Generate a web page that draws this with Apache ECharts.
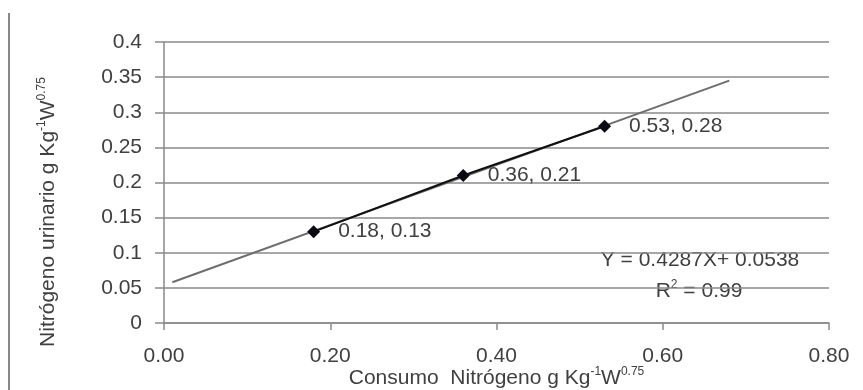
<!DOCTYPE html>
<html>
<head>
<meta charset="utf-8">
<script src="https://cdn.jsdelivr.net/npm/echarts@6/dist/echarts.min.js"></script>
<style>
  html, body { margin: 0; padding: 0; background: #fff; }
  #chart { width: 863px; height: 390px; }
</style>
</head>
<body>
<div id="chart"></div>
<script>
// observed points (consumo, urinario)
const consumo = [0.18, 0.36, 0.53];
const urinario = [0.13, 0.21, 0.28];
// ends of the fitted trendline
const trendX = [0.01, 0.68];
const trendY = [0.058, 0.345];
const xTicks = ['0.00', '0.20', '0.40', '0.60', '0.80'];
const equation = 'Y = 0.4287X+ 0.0538';
const r2 = '0.99';

const textColor = '#404040';
const font = '"Liberation Sans", Arial, sans-serif';
const sup = { fontSize: 12, verticalAlign: 'top', lineHeight: 24, color: textColor, fontFamily: font };

const points = consumo.map((x, i) => [x, urinario[i]]);
const trend = trendX.map((x, i) => [x, trendY[i]]);

const myChart = echarts.init(document.getElementById('chart'));

const option = {
  animation: false,
  backgroundColor: '#fff',
  textStyle: { fontFamily: font },
  grid: {
    left: 164,
    right: 34,
    top: 42,
    bottom: 67,
    containLabel: false,
    outerBoundsMode: 'none'
  },
  xAxis: {
    type: 'value',
    min: 0,
    max: 0.8,
    interval: 0.2,
    axisLine: { show: true, onZero: false, lineStyle: { color: '#8a8a8a', width: 1.5 } },
    axisTick: { show: true, length: 7, lineStyle: { color: '#8a8a8a', width: 1.5 } },
    splitLine: { show: false },
    axisLabel: {
      margin: 23,
      fontSize: 21,
      color: textColor,
      formatter: (v) => xTicks[Math.round(v / 0.2)]
    },
    name: 'Consumo  Nitrógeno g Kg{s|-1}W{s|0.75}',
    nameLocation: 'middle',
    nameGap: 43,
    nameMoveOverlap: false,
    nameTextStyle: { fontSize: 21, color: textColor, lineHeight: 24, rich: { s: sup } }
  },
  yAxis: {
    type: 'value',
    min: 0,
    max: 0.4,
    interval: 0.05,
    axisLine: { show: true, lineStyle: { color: '#8a8a8a', width: 1.5 } },
    axisTick: { show: true, inside: false, length: 9, lineStyle: { color: '#8a8a8a', width: 1.5 } },
    splitLine: { show: true, lineStyle: { color: '#8a8a8a', width: 1.5 } },
    axisLabel: {
      margin: 22,
      fontSize: 21,
      color: textColor,
      formatter: (v) => String(+v.toFixed(2))
    }
  },
  graphic: [
    {
      type: 'line',
      shape: { x1: 9, y1: 13, x2: 9, y2: 390 },
      style: { stroke: '#888', lineWidth: 2 }
    },
    {
      type: 'text',
      x: 48,
      y: 212,
      rotation: Math.PI / 2,
      style: {
        text: 'Nitrógeno urinario g Kg{s|-1}W{s|0.75}',
        align: 'center',
        verticalAlign: 'middle',
        fontSize: 21,
        lineHeight: 24,
        fill: textColor,
        fontFamily: font,
        rich: { s: sup }
      }
    },
    {
      type: 'text',
      x: 700,
      y: 260,
      style: {
        text: equation,
        align: 'center',
        verticalAlign: 'middle',
        fontSize: 21,
        fill: textColor,
        fontFamily: font
      }
    },
    {
      type: 'text',
      x: 699,
      y: 291,
      style: {
        text: 'R{s|2} = ' + r2,
        align: 'center',
        verticalAlign: 'middle',
        fontSize: 21,
        lineHeight: 24,
        fill: textColor,
        fontFamily: font,
        rich: { s: sup }
      }
    }
  ],
  series: [
    {
      type: 'line',
      data: trend,
      symbol: 'none',
      lineStyle: { color: '#6e6e6e', width: 2 },
      z: 2
    },
    {
      type: 'line',
      data: points,
      symbol: 'diamond',
      symbolSize: 13,
      itemStyle: { color: '#0a0a14' },
      lineStyle: { color: '#111', width: 2 },
      label: {
        show: true,
        position: 'right',
        distance: 18,
        fontSize: 21,
        color: textColor,
        formatter: (p) => p.value[0].toFixed(2) + ', ' + p.value[1].toFixed(2)
      },
      z: 3
    }
  ]
};

myChart.setOption(option);
</script>
</body>
</html>
